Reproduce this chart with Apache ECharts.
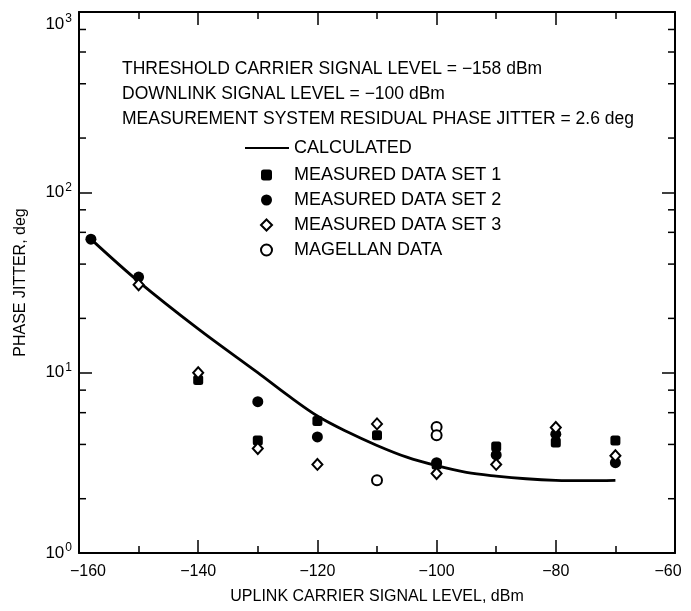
<!DOCTYPE html>
<html>
<head>
<meta charset="utf-8">
<script src="https://cdn.jsdelivr.net/npm/echarts@6/dist/echarts.min.js"></script>
<style>
html,body{margin:0;padding:0;background:#fff;}
#chart{width:691px;height:611px;}
</style>
</head>
<body>
<div id="chart"></div>
<script>
// ---- data ----
const calcLevel  = [-158, -150, -140, -130, -125, -120, -115, -110, -105, -100, -95, -90, -85, -80, -75, -70];
const calcJitter = [55, 32, 17.5, 10, 7.5, 5.75, 4.7, 3.95, 3.4, 3.05, 2.8, 2.67, 2.58, 2.53, 2.52, 2.53];

const set1Level  = [-140, -130, -120, -110, -100, -90, -80, -70];
const set1Jitter = [9.1, 4.2, 5.4, 4.5, 3.1, 3.9, 4.1, 4.2];

const set2Level  = [-158, -150, -130, -120, -100, -90, -80, -70];
const set2Jitter = [55, 33.9, 6.9, 4.4, 3.17, 3.5, 4.56, 3.17];

const set3Level  = [-150, -140, -130, -120, -110, -100, -90, -80, -70];
const set3Jitter = [30.7, 10, 3.8, 3.1, 5.2, 2.76, 3.1, 4.97, 3.46];

const magLevel   = [-110, -100, -100];
const magJitter  = [2.53, 5.0, 4.5];

const yMinorTicks = [2, 4, 6, 8, 20, 40, 60, 80, 200, 400, 600, 800];

const seriesNames = ['CALCULATED', 'MEASURED DATA SET 1', 'MEASURED DATA SET 2', 'MEASURED DATA SET 3', 'MAGELLAN DATA'];
const annotationLines = [
  'THRESHOLD CARRIER SIGNAL LEVEL = \u2212158 dBm',
  'DOWNLINK SIGNAL LEVEL = \u2212100 dBm',
  'MEASUREMENT SYSTEM RESIDUAL PHASE JITTER = 2.6 deg'
];
const xName = 'UPLINK CARRIER SIGNAL LEVEL, dBm';
const yName = 'PHASE JITTER, deg';

// ---- build ----
const FONT = '"Liberation Sans", Arial, Helvetica, sans-serif';
const pairs = (xs, ys) => xs.map((x, i) => [x, ys[i]]);
const XMIN = -160, XMAX = -60;

const chart = echarts.init(document.getElementById('chart'), null, {renderer: 'canvas'});

const xCommon = {
  type: 'value', min: XMIN, max: XMAX, interval: 20,
  splitLine: {show: false},
  axisLine: {show: true, lineStyle: {color: '#000', width: 2}},
  axisTick: {show: true, inside: true, length: 13, lineStyle: {color: '#000', width: 1.5}},
  minorTick: {show: true, splitNumber: 2, length: 7, lineStyle: {color: '#000', width: 1.5}},
  minorSplitLine: {show: false}
};
const yCommon = {
  type: 'log', logBase: 10, min: 1, max: 1000,
  splitLine: {show: false},
  axisLine: {show: true, lineStyle: {color: '#000', width: 2}},
  axisTick: {show: true, inside: true, length: 13, lineStyle: {color: '#000', width: 1.5}}
};

const option = {
  backgroundColor: '#fff',
  animation: false,
  textStyle: {fontFamily: FONT, color: '#000'},
  title: {
    text: annotationLines.join('\n'),
    left: 122, top: 57, padding: 0,
    textStyle: {fontFamily: FONT, fontSize: 17.5, fontWeight: 'normal', color: '#000', lineHeight: 25}
  },
  legend: [
    {
      data: [{name: seriesNames[0], icon: 'rect'}],
      orient: 'vertical',
      left: 245, top: 138, padding: 0,
      itemWidth: 44, itemHeight: 2,
      selectedMode: false,
      textStyle: {fontFamily: FONT, fontSize: 18, color: '#000', lineHeight: 20}
    },
    {
      data: seriesNames.slice(1),
      orient: 'vertical',
      left: 260, top: 165, padding: 0,
      itemWidth: 11, itemHeight: 11, itemGap: 5,
      selectedMode: false,
      textStyle: {fontFamily: FONT, fontSize: 18, color: '#000', lineHeight: 20, padding: [0, 0, 0, 17]}
    }
  ],
  grid: {left: 79, right: 16, top: 12, bottom: 58, containLabel: false, outerBoundsMode: 'none'},
  xAxis: [
    Object.assign({}, xCommon, {
      position: 'bottom',
      name: xName, nameLocation: 'middle', nameGap: 36,
      nameTextStyle: {fontFamily: FONT, fontSize: 16, color: '#000'},
      axisLabel: {show: true, margin: 11, fontFamily: FONT, fontSize: 16, color: '#000',
        formatter: v => {
          const t = String(v).replace('-', '\u2212');
          if (v === XMIN) return '{l|' + t + '}';
          if (v === XMAX) return '{r|' + t + '}';
          return t;
        },
        rich: {
          l: {fontFamily: FONT, fontSize: 16, color: '#000', padding: [0, 0, 0, 18]},
          r: {fontFamily: FONT, fontSize: 16, color: '#000', padding: [0, 14, 0, 0]}
        }
      }
    }),
    Object.assign({}, xCommon, {position: 'top', axisLabel: {show: false}})
  ],
  yAxis: [
    Object.assign({}, yCommon, {
      position: 'left',
      name: yName, nameLocation: 'middle', nameGap: 50, nameRotate: 90,
      nameTextStyle: {fontFamily: FONT, fontSize: 16, color: '#000'},
      axisLabel: {
        show: true, margin: 7, color: '#000', fontFamily: FONT,
        formatter: v => {
          const e = Math.round(Math.log10(v));
          return e === 3 ? '{bt|10}{st|' + e + '}' : '{b|10}{s|' + e + '}';
        },
        rich: {
          b:  {fontFamily: FONT, fontSize: 17, lineHeight: 20, color: '#000'},
          s:  {fontFamily: FONT, fontSize: 12, lineHeight: 12, padding: [0, 0, 10, 1], color: '#000'},
          bt: {fontFamily: FONT, fontSize: 17, lineHeight: 20, padding: [24, 0, 0, 0], color: '#000'},
          st: {fontFamily: FONT, fontSize: 12, lineHeight: 12, padding: [24, 0, 10, 1], color: '#000'}
        }
      }
    }),
    Object.assign({}, yCommon, {position: 'right', axisLabel: {show: false}})
  ],
  series: [
    {
      name: seriesNames[0], type: 'line', data: pairs(calcLevel, calcJitter),
      smooth: 0.35, symbol: 'none', lineStyle: {color: '#000', width: 2.8},
      itemStyle: {color: '#000'}, z: 2
    },
    {
      name: seriesNames[1], type: 'scatter', data: pairs(set1Level, set1Jitter),
      symbol: 'roundRect', symbolSize: 10, itemStyle: {color: '#000', opacity: 1}, z: 3
    },
    {
      name: seriesNames[2], type: 'scatter', data: pairs(set2Level, set2Jitter),
      symbol: 'circle', symbolSize: 11, itemStyle: {color: '#000', opacity: 1}, z: 3
    },
    {
      name: seriesNames[3], type: 'scatter', data: pairs(set3Level, set3Jitter),
      symbol: 'diamond', symbolSize: [10, 11],
      itemStyle: {color: '#fff', borderColor: '#000', borderWidth: 2, opacity: 1}, z: 4
    },
    {
      name: seriesNames[4], type: 'scatter', data: pairs(magLevel, magJitter),
      symbol: 'circle', symbolSize: 10,
      itemStyle: {color: '#fff', borderColor: '#000', borderWidth: 2, opacity: 1}, z: 4
    },
    {
      name: 'yMinorTicks', type: 'custom', silent: true, clip: false,
      data: yMinorTicks.map(v => [XMIN, v]),
      encode: {x: 0, y: 1},
      renderItem: (params, api) => {
        const v = api.value(1);
        const pl = api.coord([XMIN, v]);
        const pr = api.coord([XMAX, v]);
        const st = {stroke: '#000', lineWidth: 1.5};
        return {type: 'group', children: [
          {type: 'line', shape: {x1: pl[0], y1: pl[1], x2: pl[0] + 7, y2: pl[1]}, style: st},
          {type: 'line', shape: {x1: pr[0], y1: pr[1], x2: pr[0] - 7, y2: pr[1]}, style: st}
        ]};
      },
      z: 1
    }
  ]
};
chart.setOption(option);
</script>
</body>
</html>
